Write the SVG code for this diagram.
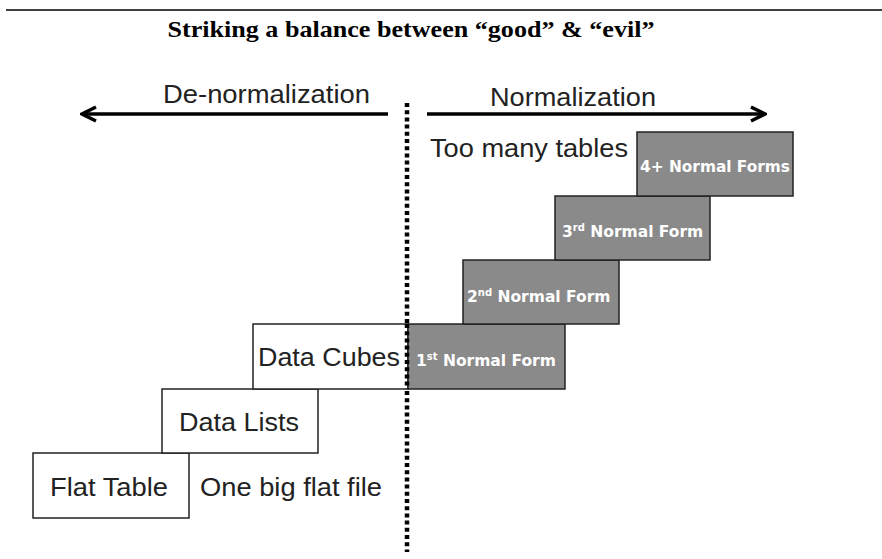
<svg xmlns="http://www.w3.org/2000/svg" width="882" height="559" viewBox="0 0 882 559">
  <style>
    .title { font-family: "Liberation Serif", "Times New Roman", serif; font-weight: bold; font-size: 23px; fill: #000; }
    .label { font-family: "Liberation Sans", Arial, sans-serif; font-size: 25px; fill: #222; }
    .box-w { fill: #fff; stroke: #222; stroke-width: 1.5; }
    .box-g { fill: #8a8a8a; stroke: #222; stroke-width: 1.5; }
    .nf { font-family: "DejaVu Sans", Verdana, sans-serif; font-weight: bold; font-size: 15.5px; fill: #fff; }
    .sup { font-size: 10px; }
    .arrow { stroke: #000; stroke-width: 3.5; fill: none; }
    .divider { stroke: #000; stroke-width: 4.5; stroke-dasharray: 4 3.2; fill: none; }
  </style>
  <defs>
    <marker id="head" viewBox="0 0 10 10" refX="9" refY="5" markerWidth="5" markerHeight="5" orient="auto-start-reverse" markerUnits="strokeWidth">
      <path d="M1,1 L9,5 L1,9" fill="none" stroke="#000" stroke-width="2"/>
    </marker>
  </defs>

  <rect width="882" height="559" fill="#fff"/>
  <line x1="6" y1="10" x2="882" y2="10" stroke="#000" stroke-width="1.5"/>
  <text class="title" x="411" y="37" text-anchor="middle" textLength="487" lengthAdjust="spacingAndGlyphs">Striking a balance between “good” &amp; “evil”</text>

  <g id="connectors">
    <line class="arrow" x1="388" y1="114" x2="82" y2="114" marker-end="url(#head)"/>
    <line class="arrow" x1="427" y1="114" x2="765" y2="114" marker-end="url(#head)"/>
    <line class="divider" x1="407" y1="103" x2="407" y2="552"/>
  </g>

  <text class="label" x="163" y="103" textLength="207" lengthAdjust="spacingAndGlyphs">De-normalization</text>
  <text class="label" x="490" y="106" textLength="166" lengthAdjust="spacingAndGlyphs">Normalization</text>
  <text class="label" x="430" y="157" textLength="198" lengthAdjust="spacingAndGlyphs">Too many tables</text>
  <text class="label" x="200" y="496" textLength="182" lengthAdjust="spacingAndGlyphs">One big flat file</text>

  <g id="flat-table">
    <rect class="box-w" x="33" y="453" width="156" height="65"/>
    <text class="label" x="50" y="496" textLength="118" lengthAdjust="spacingAndGlyphs">Flat Table</text>
  </g>
  <g id="data-lists">
    <rect class="box-w" x="162" y="389" width="156" height="64"/>
    <text class="label" x="179" y="431" textLength="120" lengthAdjust="spacingAndGlyphs">Data Lists</text>
  </g>
  <g id="data-cubes">
    <rect class="box-w" x="253" y="324" width="155" height="65"/>
    <text class="label" x="258" y="366" textLength="142" lengthAdjust="spacingAndGlyphs">Data Cubes</text>
  </g>
  <g id="nf1">
    <rect class="box-g" x="408" y="324" width="157" height="65"/>
    <text class="nf" x="416" y="366">1<tspan class="sup" dy="-6">st</tspan><tspan dy="6"> Normal Form</tspan></text>
  </g>
  <g id="nf2">
    <rect class="box-g" x="463" y="260" width="156" height="64"/>
    <text class="nf" x="467" y="302">2<tspan class="sup" dy="-6">nd</tspan><tspan dy="6">  Normal Form</tspan></text>
  </g>
  <g id="nf3">
    <rect class="box-g" x="555" y="196" width="155" height="64"/>
    <text class="nf" x="562" y="237">3<tspan class="sup" dy="-6">rd</tspan><tspan dy="6"> Normal Form</tspan></text>
  </g>
  <g id="nf4">
    <rect class="box-g" x="637" y="132" width="156" height="64"/>
    <text class="nf" x="640" y="172" textLength="150" lengthAdjust="spacingAndGlyphs">4+ Normal Forms</text>
  </g>

  <!-- the divider runs over the first gray box -->
  <line class="divider" x1="407" y1="324" x2="407" y2="389"/>
</svg>
